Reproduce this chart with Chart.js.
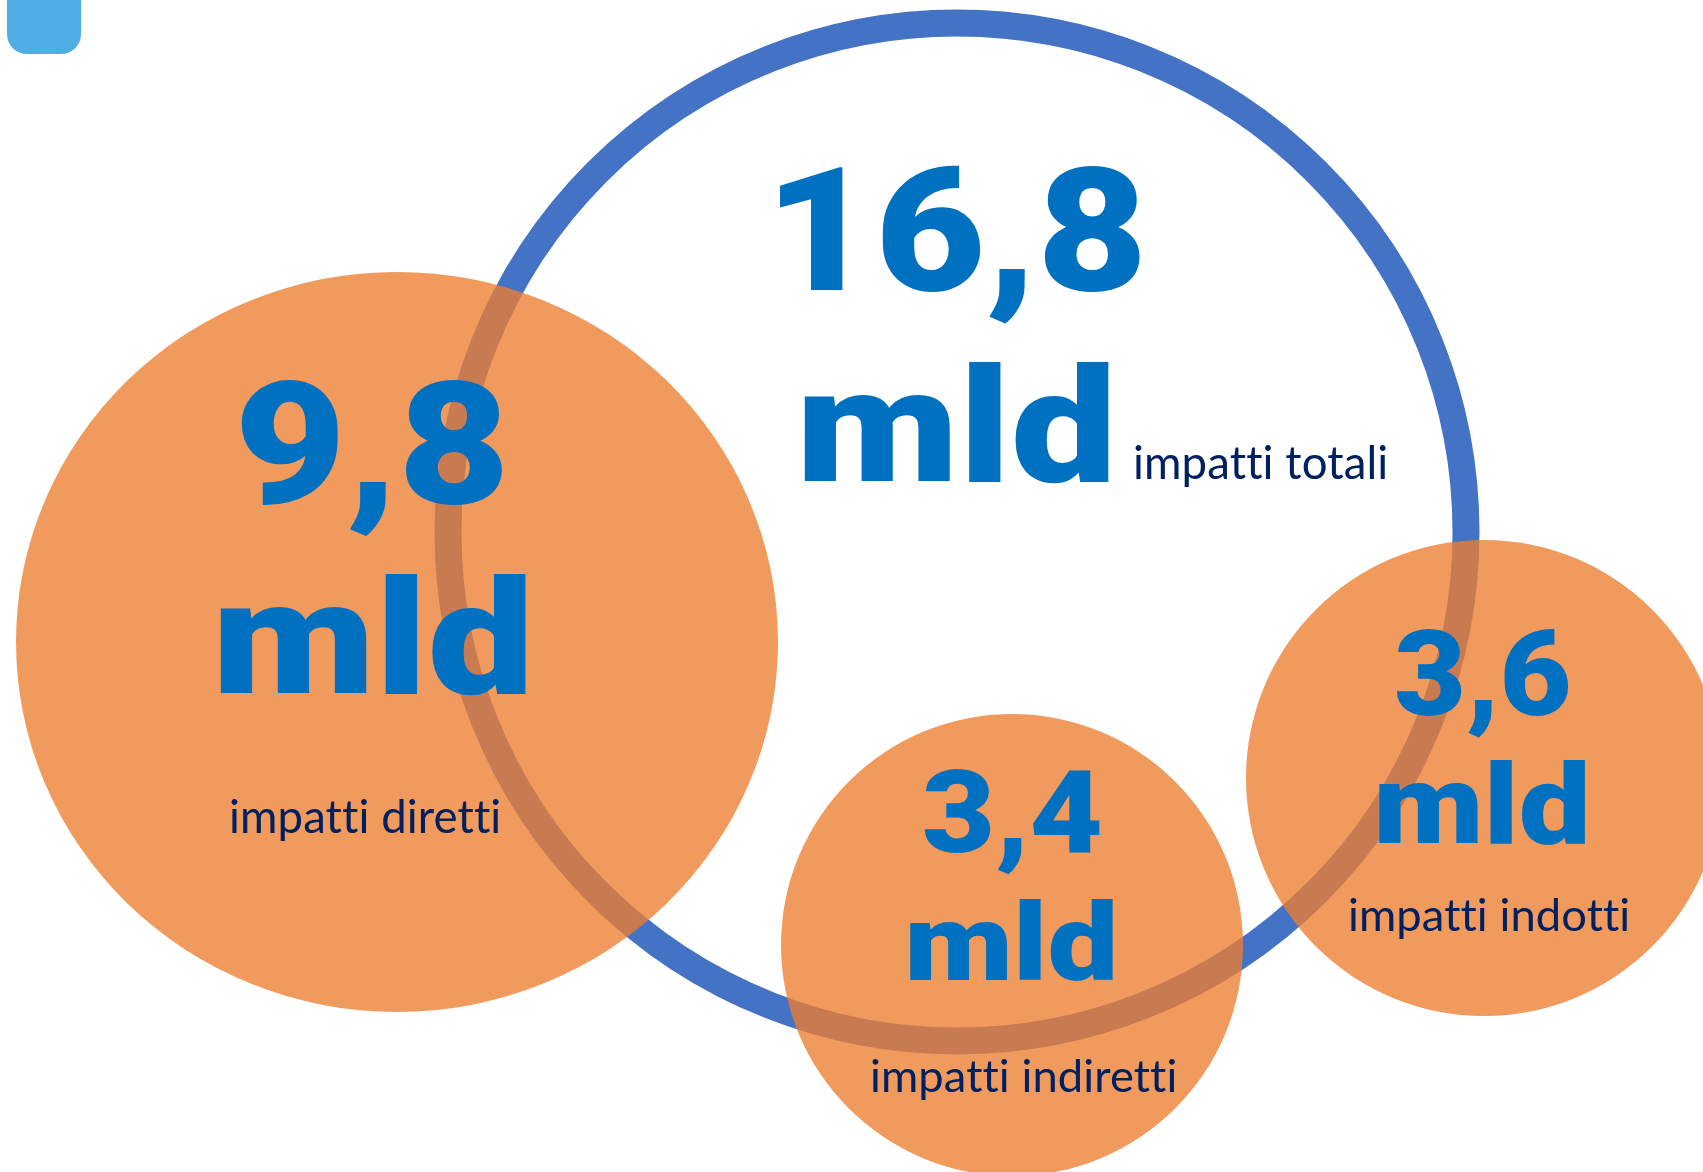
<!DOCTYPE html>
<html lang="it">
<head>
<meta charset="utf-8">
<title>Impatti economici</title>
<script src="https://cdn.jsdelivr.net/npm/chart.js@4.4.1/dist/chart.umd.min.js"></script>
<style>
  html, body { margin: 0; padding: 0; background: #fff; overflow: hidden; }
  #wrap { position: relative; width: 1703px; height: 1172px; }
  #tag { position: absolute; left: 7px; top: -30px; width: 74px; height: 84px; border-radius: 20px; background: #4FADE3; }
  canvas { display: block; }
</style>
</head>
<body>
<div id="wrap">
  <div id="tag"></div>
  <canvas id="chart" width="1703" height="1172"></canvas>
</div>
<script>
// dati (miliardi)
const categories = ['impatti totali', 'impatti diretti', 'impatti indiretti', 'impatti indotti'];
const values = [16.8, 9.8, 3.4, 3.6];
const unitLabel = 'mld';

// layout, in unità degli assi (0..1703 x 0..1172)
const centerX = [957, 397, 1012, 1484];
const centerY = [532, 642, 945, 778];
const radiusX = [509, 381, 231, 238];
const radiusY = [509, 370, 231, 238];
const ringWidth = 27;

// riquadri del testo: [sinistra, destra, alto, linea di base]
const numBox  = [[780, 1140, 166, 290], [241, 502, 380, 503], [924, 1100, 769, 852], [1396, 1569, 630, 715]];
const unitBox = [[804, 1109, 361, 481], [220, 526, 573, 693], [910, 1113, 899, 980], [1379, 1586, 760, 843]];
const capBox  = [[1135, 1385, 479], [231, 498, 833], [872, 1174, 1092], [1350, 1627, 931]];

const BLUE = '#0070C0';
const NAVY = '#002060';
const RING = '#4472C4';
const ORANGE = 'rgba(237,125,49,0.78)';
const BIG_FONT = '"Roboto", "Lato", "DejaVu Sans", sans-serif';
const CAP_FONT = '"Lato", "Open Sans", sans-serif';

function fmt(v) { return v.toFixed(1).replace('.', ','); }

// ellisse come pointStyle (per il cerchio non perfettamente tondo)
function ellipseStyle(rx, ry) {
  const c = document.createElement('canvas');
  c.width = rx * 2; c.height = ry * 2;
  const g = c.getContext('2d');
  g.fillStyle = ORANGE;
  g.beginPath(); g.ellipse(rx, ry, rx, ry, 0, 0, Math.PI * 2); g.fill();
  return c;
}
const styles = radiusX.map((rx, i) => rx !== radiusY[i] ? ellipseStyle(rx, radiusY[i]) : 'circle');

// testo grande: adatta altezza e larghezza al riquadro
function fitBig(ctx, text, box, xs, ys) {
  const left = xs.getPixelForValue(box[0]), right = xs.getPixelForValue(box[1]);
  const top = ys.getPixelForValue(box[2]), base = ys.getPixelForValue(box[3]);
  ctx.font = `900 100px ${BIG_FONT}`;
  const m = ctx.measureText(text);
  const size = 100 * (base - top) / m.actualBoundingBoxAscent;
  ctx.font = `900 ${size}px ${BIG_FONT}`;
  const m2 = ctx.measureText(text);
  const inkW = m2.actualBoundingBoxLeft + m2.actualBoundingBoxRight;
  ctx.save();
  ctx.translate(left, base);
  ctx.scale((right - left) / inkW, 1);
  ctx.fillStyle = BLUE;
  ctx.fillText(text, m2.actualBoundingBoxLeft, 0);
  ctx.restore();
}

function fitCaption(ctx, text, box, xs, ys) {
  const left = xs.getPixelForValue(box[0]), right = xs.getPixelForValue(box[1]);
  const base = ys.getPixelForValue(box[2]);
  ctx.save();
  ctx.letterSpacing = '0.1px'; // niente legatura "tt"
  ctx.font = `400 100px ${CAP_FONT}`;
  const m = ctx.measureText(text);
  const size = 100 * (right - left) / (m.actualBoundingBoxLeft + m.actualBoundingBoxRight);
  ctx.font = `400 ${size}px ${CAP_FONT}`;
  const m2 = ctx.measureText(text);
  ctx.fillStyle = NAVY;
  ctx.fillText(text, left + m2.actualBoundingBoxLeft, base);
  ctx.restore();
}

const labelPlugin = {
  id: 'bubbleLabels',
  afterDatasetsDraw(chart) {
    const { ctx, scales: { x, y } } = chart;
    ctx.save();
    ctx.textAlign = 'left';
    ctx.textBaseline = 'alphabetic';
    values.forEach((v, i) => {
      fitBig(ctx, fmt(v), numBox[i], x, y);
      fitBig(ctx, unitLabel, unitBox[i], x, y);
      fitCaption(ctx, categories[i], capBox[i], x, y);
    });
    ctx.restore();
  }
};

const point = i => ({ x: centerX[i], y: centerY[i], r: radiusX[i] });

new Chart(document.getElementById('chart'), {
  type: 'bubble',
  data: {
    datasets: [
      {
        label: categories[0],
        data: [point(0)],
        backgroundColor: 'rgba(0,0,0,0)',
        borderColor: RING,
        borderWidth: ringWidth,
        order: 2
      },
      {
        label: 'componenti',
        data: [1, 2, 3].map(point),
        backgroundColor: ORANGE,
        borderWidth: 0,
        pointStyle: c => styles[c.dataIndex + 1],
        order: 1
      }
    ]
  },
  options: {
    responsive: false,
    animation: false,
    events: [],
    layout: { padding: 0, autoPadding: false },
    plugins: { legend: { display: false }, tooltip: { enabled: false } },
    scales: {
      x: { type: 'linear', min: 0, max: 1703, display: false },
      y: { type: 'linear', min: 0, max: 1172, reverse: true, display: false }
    }
  },
  plugins: [labelPlugin]
});
</script>
</body>
</html>
